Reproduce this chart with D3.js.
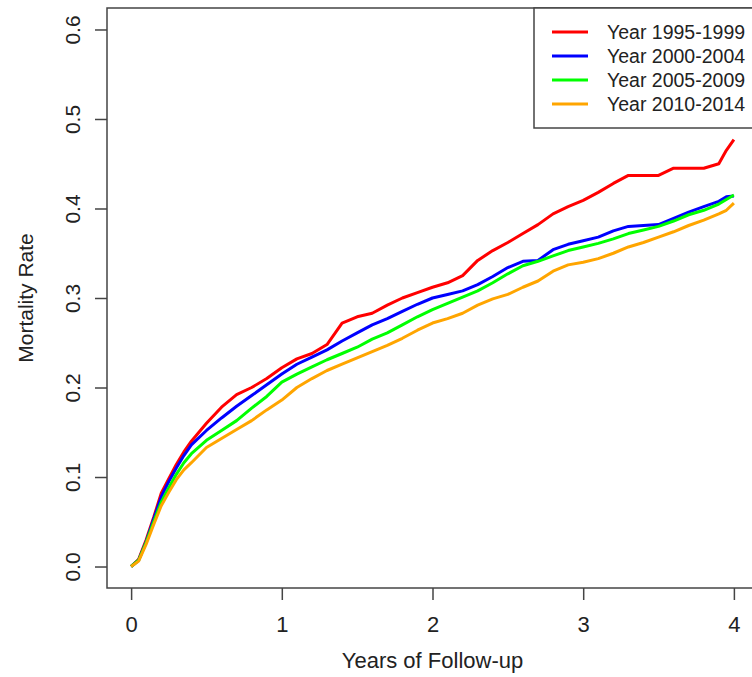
<!DOCTYPE html>
<html>
<head>
<meta charset="utf-8">
<script src="https://cdn.jsdelivr.net/npm/d3@7"></script>
<style>
  body { margin: 0; background: #fff; }
  svg text { font-family: "Liberation Sans", Arial, sans-serif; fill: #222; }
</style>
</head>
<body>
<div id="chart"></div>
<script>
// follow-up time in years (shared grid)
var years = [0, 0.05, 0.1, 0.15, 0.2, 0.25, 0.3, 0.35, 0.4, 0.5, 0.6, 0.7, 0.8, 0.9, 1.0,
  1.1, 1.2, 1.3, 1.4, 1.5, 1.6, 1.7, 1.8, 1.9, 2.0, 2.1, 2.2, 2.3, 2.4, 2.5, 2.6, 2.7, 2.8, 2.9, 3.0,
  3.1, 3.2, 3.3, 3.4, 3.5, 3.6, 3.7, 3.8, 3.9, 3.95, 4.0];

// cumulative mortality
var rate1995 = [0, 0.008, 0.030, 0.055, 0.082, 0.098, 0.114, 0.128, 0.140, 0.160, 0.178, 0.192, 0.200, 0.210, 0.222,
  0.232, 0.238, 0.248, 0.272, 0.279, 0.283, 0.292, 0.300, 0.306, 0.312, 0.317, 0.325, 0.342, 0.353, 0.362, 0.372, 0.382, 0.394, 0.402, 0.409,
  0.418, 0.428, 0.437, 0.437, 0.437, 0.445, 0.445, 0.445, 0.450, 0.465, 0.477];
var rate2000 = [0, 0.007, 0.028, 0.053, 0.078, 0.095, 0.110, 0.124, 0.136, 0.152, 0.166, 0.179, 0.191, 0.203, 0.215,
  0.226, 0.234, 0.242, 0.252, 0.261, 0.270, 0.277, 0.285, 0.293, 0.300, 0.304, 0.308, 0.315, 0.324, 0.334, 0.341, 0.342, 0.354, 0.360, 0.364,
  0.368, 0.375, 0.380, 0.381, 0.382, 0.389, 0.396, 0.402, 0.408, 0.413, 0.414];
var rate2005 = [0, 0.007, 0.027, 0.050, 0.072, 0.088, 0.103, 0.116, 0.126, 0.141, 0.152, 0.163, 0.177, 0.190, 0.206,
  0.215, 0.223, 0.231, 0.238, 0.245, 0.254, 0.261, 0.270, 0.279, 0.287, 0.294, 0.301, 0.308, 0.317, 0.327, 0.336, 0.341, 0.347, 0.353, 0.357,
  0.361, 0.366, 0.372, 0.376, 0.380, 0.386, 0.393, 0.398, 0.405, 0.410, 0.415];
var rate2010 = [0, 0.006, 0.025, 0.047, 0.068, 0.083, 0.097, 0.108, 0.116, 0.133, 0.143, 0.153, 0.163, 0.175, 0.186,
  0.200, 0.210, 0.219, 0.226, 0.233, 0.240, 0.247, 0.255, 0.264, 0.272, 0.277, 0.283, 0.292, 0.299, 0.304, 0.312, 0.319, 0.330, 0.337, 0.340,
  0.344, 0.350, 0.357, 0.362, 0.368, 0.374, 0.381, 0.387, 0.394, 0.398, 0.406];

var seriesNames = ["Year 1995-1999", "Year 2000-2004", "Year 2005-2009", "Year 2010-2014"];
var seriesColors = ["#ff0000", "#0000ff", "#00ff00", "#ffa500"];
var seriesRates = [rate1995, rate2000, rate2005, rate2010];

var xTicks = [0, 1, 2, 3, 4];
var yTicks = [0, 0.1, 0.2, 0.3, 0.4, 0.5, 0.6];

var width = 752, height = 677;
// plot box (R style, 4% padding on each axis)
var box = { left: 107, top: 8, right: 758, bottom: 588 };

var svg = d3.select("#chart")
  .append("svg")
  .attr("width", width)
  .attr("height", height);

var x = d3.scaleLinear()
  .domain([-0.16, 4.16])
  .range([box.left, box.right]);

var y = d3.scaleLinear()
  .domain([-0.024, 0.624])
  .range([box.bottom, box.top]);

var axisColor = "#444";

// curves
var line = d3.line()
  .x(function (d) { return x(d[0]); })
  .y(function (d) { return y(d[1]); });

seriesRates.forEach(function (rates, i) {
  var pts = years.map(function (t, j) { return [t, rates[j]]; });
  svg.append("path")
    .datum(pts)
    .attr("d", line)
    .attr("fill", "none")
    .attr("stroke", seriesColors[i])
    .attr("stroke-width", 3)
    .attr("stroke-linejoin", "round");
});

// box
svg.append("rect")
  .attr("x", box.left)
  .attr("y", box.top)
  .attr("width", box.right - box.left)
  .attr("height", box.bottom - box.top)
  .attr("fill", "none")
  .attr("stroke", axisColor)
  .attr("stroke-width", 1.5);

// x axis
var xAxis = svg.append("g")
  .attr("transform", "translate(0," + box.bottom + ")")
  .call(d3.axisBottom(x).tickValues(xTicks).tickSize(12).tickFormat(d3.format("d")));
xAxis.select(".domain").remove();
xAxis.selectAll("line").attr("stroke", axisColor).attr("stroke-width", 1.5);
xAxis.selectAll("text")
  .attr("y", 44)
  .attr("dy", 0)
  .style("font-size", "22px")
  .style("fill", "#222");

// y axis, labels rotated like R
var yAxis = svg.append("g")
  .attr("transform", "translate(" + box.left + ",0)")
  .call(d3.axisLeft(y).tickValues(yTicks).tickSize(12).tickFormat(d3.format(".1f")));
yAxis.select(".domain").remove();
yAxis.selectAll("line").attr("stroke", axisColor).attr("stroke-width", 1.5);
yAxis.selectAll("text")
  .attr("x", 0)
  .attr("dy", 0)
  .attr("text-anchor", "middle")
  .attr("transform", "translate(-27,0) rotate(-90)")
  .style("font-size", "21px")
  .style("fill", "#222");

// axis titles
svg.append("text")
  .attr("x", (x(0) + x(4)) / 2)
  .attr("y", 668)
  .attr("text-anchor", "middle")
  .style("font-size", "22px")
  .text("Years of Follow-up");

svg.append("text")
  .attr("transform", "translate(33," + (box.top + box.bottom) / 2 + ") rotate(-90)")
  .attr("text-anchor", "middle")
  .style("font-size", "21px")
  .text("Mortality Rate");

// legend (top right, inside box)
var legend = svg.append("g");
legend.append("rect")
  .attr("x", 534)
  .attr("y", box.top)
  .attr("width", box.right - 534)
  .attr("height", 120)
  .attr("fill", "#fff")
  .attr("stroke", axisColor)
  .attr("stroke-width", 1.5);

seriesNames.forEach(function (name, i) {
  var ly = 32 + i * 24;
  legend.append("line")
    .attr("x1", 552).attr("x2", 588)
    .attr("y1", ly).attr("y2", ly)
    .attr("stroke", seriesColors[i])
    .attr("stroke-width", 3);
  legend.append("text")
    .attr("x", 607)
    .attr("y", ly)
    .attr("dy", "0.35em")
    .style("font-size", "19.5px")
    .text(name);
});
</script>
</body>
</html>
